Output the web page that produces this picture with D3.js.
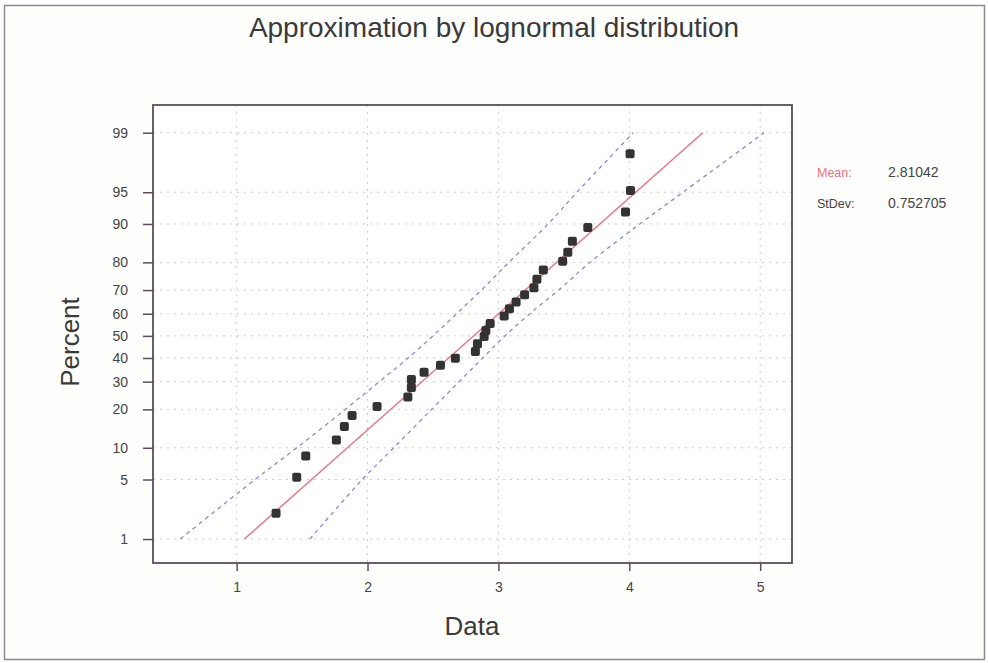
<!DOCTYPE html>
<html>
<head>
<meta charset="utf-8">
<script src="https://cdn.jsdelivr.net/npm/d3@7/dist/d3.min.js"></script>
<style>
  html, body { margin: 0; padding: 0; background: #ffffff; }
  svg { display: block; font-family: "Liberation Sans", Arial, sans-serif; }
</style>
</head>
<body>
<svg id="chart" width="989" height="663"></svg>
<script>
// Observed data values (ordered) and their plotted percentiles
const dataValues = [1.301, 1.459, 1.528, 1.762, 1.823, 1.882, 2.073, 2.308, 2.335, 2.335,
                    2.432, 2.557, 2.671, 2.824, 2.840, 2.891, 2.904, 2.937, 3.044, 3.084,
                    3.135, 3.200, 3.271, 3.294, 3.343, 3.491, 3.530, 3.565, 3.683, 3.971,
                    4.009, 4.006];
const dataPercents = [2.11, 5.27, 8.46, 11.66, 14.94, 18.06, 20.90, 24.23, 27.76, 30.83,
                      33.87, 36.85, 39.90, 42.86, 46.35, 49.68, 52.42, 55.60, 58.98, 62.15,
                      65.07, 68.08, 70.89, 74.13, 77.43, 80.34, 83.07, 86.06, 89.27, 92.19,
                      95.21, 98.15];

// Fitted distribution parameters
const fitMean = 2.81042;
const fitStDev = 0.752705;

// Confidence band, sampled at the percent levels
const bandPercents = [1, 5, 10, 20, 30, 40, 50, 60, 70, 80, 90, 95, 99];
const bandLower = [0.57, 1.14, 1.46, 1.83, 2.09, 2.31, 2.50, 2.68, 2.87, 3.08, 3.38, 3.60, 4.03];
const bandUpper = [1.56, 1.96, 2.20, 2.49, 2.70, 2.88, 3.05, 3.24, 3.46, 3.70, 4.08, 4.41, 5.03];

// Axis ticks
const xTicks = [1, 2, 3, 4, 5];
const yTicks = [1, 5, 10, 20, 30, 40, 50, 60, 70, 80, 90, 95, 99];

// Inverse standard normal CDF (Acklam's approximation)
function probit(p) {
  const a = [-3.969683028665376e+01, 2.209460984245205e+02, -2.759285104469687e+02,
             1.383577518672690e+02, -3.066479806614716e+01, 2.506628277459239e+00];
  const b = [-5.447609879822406e+01, 1.615858368580409e+02, -1.556989798598866e+02,
             6.680131188771972e+01, -1.328068155288572e+01];
  const c = [-7.784894002430293e-03, -3.223964580411365e-01, -2.400758277161838e+00,
             -2.549732539343734e+00, 4.374664141464968e+00, 2.938163982698783e+00];
  const d = [7.784695709041462e-03, 3.224671290700398e-01, 2.445134137142996e+00,
             3.754408661907416e+00];
  const pl = 0.02425, ph = 1 - pl;
  let q, r;
  if (p < pl) {
    q = Math.sqrt(-2 * Math.log(p));
    return (((((c[0]*q+c[1])*q+c[2])*q+c[3])*q+c[4])*q+c[5]) / ((((d[0]*q+d[1])*q+d[2])*q+d[3])*q+1);
  } else if (p <= ph) {
    q = p - 0.5; r = q * q;
    return (((((a[0]*r+a[1])*r+a[2])*r+a[3])*r+a[4])*r+a[5])*q / (((((b[0]*r+b[1])*r+b[2])*r+b[3])*r+b[4])*r+1);
  } else {
    q = Math.sqrt(-2 * Math.log(1 - p));
    return -(((((c[0]*q+c[1])*q+c[2])*q+c[3])*q+c[4])*q+c[5]) / ((((d[0]*q+d[1])*q+d[2])*q+d[3])*q+1);
  }
}
const z = pct => probit(pct / 100);

const svg = d3.select("#chart");
const plot = { left: 153, top: 105, right: 792, bottom: 563 };

// Outer frame
svg.append("rect")
  .attr("x", 4.5).attr("y", 5.5).attr("width", 980).attr("height", 654)
  .attr("fill", "#fefefc").attr("stroke", "#8a8a8a").attr("stroke-width", 1.5);

// Scales: linear data axis, normal-probability percent axis
const x = d3.scaleLinear().domain([0.361, 5.243]).range([plot.left, plot.right]);
const y = d3.scaleLinear().domain([z(0.465), z(99.59)]).range([plot.bottom, plot.top]);

// Plot background
svg.append("rect")
  .attr("x", plot.left).attr("y", plot.top)
  .attr("width", plot.right - plot.left).attr("height", plot.bottom - plot.top)
  .attr("fill", "#ffffff");

// Dotted grid
const grid = svg.append("g").attr("stroke", "#cccccc").attr("stroke-width", 1)
  .attr("stroke-dasharray", "2,5");
grid.selectAll("line.h").data(yTicks).join("line")
  .attr("x1", plot.left).attr("x2", plot.right)
  .attr("y1", d => y(z(d))).attr("y2", d => y(z(d)));
grid.selectAll("line.v").data(xTicks).join("line")
  .attr("y1", plot.top).attr("y2", plot.bottom)
  .attr("x1", d => x(d)).attr("x2", d => x(d));

// Confidence bands
const bandLine = vals => d3.line()
  .x((d, i) => x(vals[i]))
  .y(d => y(z(d)))
  .curve(d3.curveCatmullRom)(bandPercents);
[bandLower, bandUpper].forEach(vals => {
  svg.append("path")
    .attr("d", bandLine(vals))
    .attr("fill", "none").attr("stroke", "#858ad4").attr("stroke-width", 1.3)
    .attr("stroke-dasharray", "4,4");
});

// Fitted line
const fitPct = [1, 99];
svg.append("path")
  .attr("d", d3.line().x(d => x(fitMean + fitStDev * z(d))).y(d => y(z(d)))(fitPct))
  .attr("fill", "none").attr("stroke", "#ec6f7e").attr("stroke-width", 1.4);

// Observations
svg.append("g").selectAll("rect").data(dataValues).join("rect")
  .attr("x", d => x(d) - 4.5).attr("y", (d, i) => y(z(dataPercents[i])) - 4.5)
  .attr("width", 9).attr("height", 9).attr("rx", 2)
  .attr("fill", "#333333");

// Plot border
svg.append("rect")
  .attr("x", plot.left).attr("y", plot.top)
  .attr("width", plot.right - plot.left).attr("height", plot.bottom - plot.top)
  .attr("fill", "none").attr("stroke", "#5a4e5a").attr("stroke-width", 1.8);

// Axes
const xAxis = svg.append("g")
  .attr("transform", `translate(0,${plot.bottom})`)
  .call(d3.axisBottom(x).tickValues(xTicks).tickFormat(d3.format("d")).tickSize(8).tickPadding(11));
const yAxis = svg.append("g")
  .attr("transform", `translate(${plot.left},0)`)
  .call(d3.axisLeft(y).tickValues(yTicks.map(z)).tickFormat((d, i) => yTicks[i]).tickSize(10).tickPadding(15));
[xAxis, yAxis].forEach(g => {
  g.select(".domain").remove();
  g.selectAll(".tick line").attr("stroke", "#5a4e5a").attr("stroke-width", 1.5);
  g.selectAll(".tick text").attr("fill", "#444444")
    .style("font-family", "'Liberation Sans', Arial, sans-serif").style("font-size", "14px");
});

// Titles
svg.append("text")
  .attr("x", 494).attr("y", 37).attr("text-anchor", "middle")
  .attr("fill", "#3a3a3a").style("font-size", "28px")
  .text("Approximation by lognormal distribution");
svg.append("text")
  .attr("x", 472).attr("y", 635).attr("text-anchor", "middle")
  .attr("fill", "#3a3a3a").style("font-size", "26px")
  .text("Data");
svg.append("text")
  .attr("transform", "translate(79,342) rotate(-90)").attr("text-anchor", "middle")
  .attr("fill", "#3a3a3a").style("font-size", "26px")
  .text("Percent");

// Parameter legend
const legend = [
  { label: "Mean:", value: fitMean, color: "#ec6f7e" },
  { label: "StDev:", value: fitStDev, color: "#444444" }
];
const lg = svg.append("g");
legend.forEach((d, i) => {
  lg.append("text").attr("x", 817).attr("y", 177 + i * 31).attr("fill", d.color)
    .style("font-size", "12.5px").text(d.label);
  lg.append("text").attr("x", 888).attr("y", 177 + i * 31).attr("fill", "#444444")
    .style("font-size", "14px").text(String(d.value));
});
</script>
</body>
</html>
